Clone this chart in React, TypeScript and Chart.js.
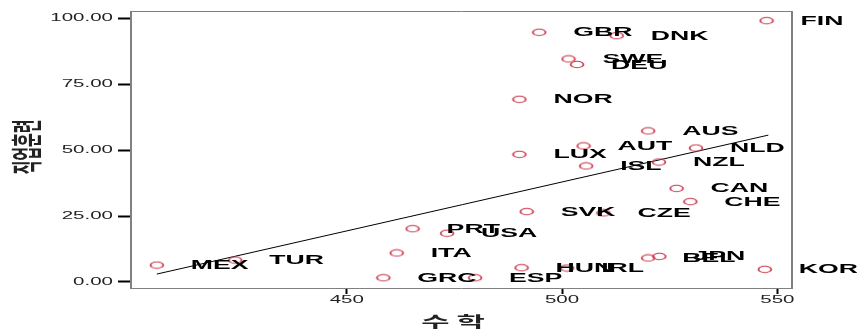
import React, { useEffect, useRef } from 'react';
import { Chart, registerables } from 'chart.js';

Chart.register(...registerables);

// ---- data ----
const countries = ['MEX', 'TUR', 'GRC', 'ITA', 'PRT', 'USA', 'ESP', 'HUN', 'NOR', 'LUX', 'SVK', 'GBR', 'IRL', 'SWE', 'DEU', 'AUT', 'ISL', 'CZE', 'DNK', 'BEL', 'AUS', 'NZL', 'JPN', 'CAN', 'CHE', 'NLD', 'KOR', 'FIN'];
const mathScores = [405.9, 424.1, 458.5, 461.6, 465.3, 473.3, 479.8, 490.6, 490.1, 490.1, 491.8, 494.7, 501.2, 501.5, 503.5, 505.0, 505.6, 509.6, 512.7, 520.0, 520.0, 522.5, 522.6, 526.6, 529.8, 531.1, 547.1, 547.5];
const vocational = [6.4, 8.3, 1.6, 11.0, 20.2, 18.5, 1.6, 5.4, 69.3, 48.4, 26.7, 94.7, 5.3, 84.6, 82.5, 51.6, 44.0, 26.2, 93.4, 9.1, 57.3, 45.5, 9.7, 35.5, 30.5, 50.8, 4.8, 99.1];
const fitX = [405.9, 547.9];
const fitY = [3.0, 55.7];
const xTicks = [450, 500, 550];
const yTicks = [0, 25, 50, 75, 100];
const xTitle = '수 학';
const yTitle = '직업훈련';

const S = 2.05; // horizontal stretch of the reference picture
const LATIN = "'Liberation Sans', Arial, sans-serif";
const KR = "'Noto Sans CJK KR', 'Noto Sans', sans-serif";

function stretchText(
  ctx: CanvasRenderingContext2D,
  text: string,
  x: number,
  y: number,
  font: string,
  align: CanvasTextAlign,
  color: string,
  rot = 0
) {
  ctx.save();
  ctx.translate(x, y);
  ctx.scale(S, 1);
  if (rot) ctx.rotate(rot);
  ctx.font = font;
  ctx.textAlign = align;
  ctx.textBaseline = 'middle';
  ctx.fillStyle = color;
  ctx.fillText(text, 0, 0);
  ctx.restore();
}

const overlay = {
  id: 'overlay',
  afterDraw(chart: any) {
    const ctx: CanvasRenderingContext2D = chart.ctx;
    const a = chart.chartArea;
    // frame
    ctx.save();
    ctx.strokeStyle = '#808080';
    ctx.lineWidth = 1;
    ctx.beginPath();
    ctx.moveTo(a.left, a.top + 0.5);
    ctx.lineTo(a.right, a.top + 0.5);
    ctx.moveTo(a.left, a.bottom + 0.5);
    ctx.lineTo(a.right, a.bottom + 0.5);
    ctx.stroke();
    ctx.lineWidth = 2;
    ctx.beginPath();
    ctx.moveTo(a.left, a.top);
    ctx.lineTo(a.left, a.bottom + 1);
    ctx.moveTo(a.right, a.top);
    ctx.lineTo(a.right, a.bottom + 1);
    ctx.stroke();
    ctx.restore();

    // country labels
    const meta = chart.getDatasetMeta(0);
    meta.data.forEach((el: any, i: number) => {
      stretchText(ctx, countries[i], el.x + 34, el.y + 0.5, `bold 13px ${LATIN}`, 'left', '#000');
    });

    // tick labels
    const xs = chart.scales.x;
    const ys = chart.scales.y;
    xTicks.forEach((v) => {
      stretchText(ctx, String(v), xs.getPixelForValue(v), a.bottom + 12.5, `10px ${LATIN}`, 'center', '#222');
    });
    yTicks.forEach((v) => {
      stretchText(ctx, v.toFixed(2), a.left - 18, ys.getPixelForValue(v), `10px ${LATIN}`, 'right', '#222');
    });

    // axis titles
    stretchText(ctx, xTitle, 453, 321, `bold 15px ${KR}`, 'center', '#222');
    stretchText(ctx, yTitle, 26, 147, `bold 15px ${KR}`, 'center', '#222', -Math.PI / 2);
  },
};

export default function App() {
  const ref = useRef<HTMLCanvasElement>(null);

  useEffect(() => {
    if (!ref.current) return;
    const marker = document.createElement('canvas');
    marker.width = 16;
    marker.height = 9;
    const m = marker.getContext('2d')!;
    m.save();
    m.translate(8, 4.5);
    m.scale(2, 1);
    m.beginPath();
    m.arc(0, 0, 3.2, 0, Math.PI * 2);
    m.strokeStyle = 'rgb(205,60,80)';
    m.lineWidth = 0.9;
    m.stroke();
    m.restore();

    const chart = new Chart(ref.current, {
      type: 'scatter',
      data: {
        datasets: [
          {
            label: 'countries',
            data: mathScores.map((x, i) => ({ x, y: vocational[i] })),
            pointStyle: marker as any,
            pointRadius: 5,
            order: 1,
          } as any,
          {
            type: 'line',
            label: 'fit',
            data: fitX.map((x, i) => ({ x, y: fitY[i] })),
            borderColor: '#000',
            borderWidth: 1,
            pointRadius: 0,
            showLine: true,
            fill: false,
            order: 2,
          } as any,
        ],
      },
      options: {
        animation: false,
        responsive: false,
        maintainAspectRatio: false,
        layout: { padding: { left: 0, right: 65, top: 11, bottom: 0 } },
        plugins: { legend: { display: false }, tooltip: { enabled: false } },
        scales: {
          x: {
            type: 'linear',
            min: 399.9,
            max: 553.4,
            afterBuildTicks: (s: any) => {
              s.ticks = xTicks.map((v) => ({ value: v }));
            },
            afterFit: (s: any) => {
              s.height = 46;
            },
            ticks: { display: false },
            border: { display: false },
            grid: { drawOnChartArea: false, drawTicks: true, tickLength: 6, tickWidth: 2, tickColor: '#000' },
          },
          y: {
            type: 'linear',
            min: -2.28,
            max: 102.77,
            afterBuildTicks: (s: any) => {
              s.ticks = yTicks.map((v) => ({ value: v }));
            },
            afterFit: (s: any) => {
              s.width = 131;
            },
            ticks: { display: false },
            border: { display: false },
            grid: { drawOnChartArea: false, drawTicks: true, tickLength: 13, tickWidth: 2, tickColor: '#000' },
          },
        },
      } as any,
      plugins: [overlay],
    });
    return () => chart.destroy();
  }, []);

  return (
    <div style={{ position: 'fixed', left: 0, top: 0, width: 857, height: 334, background: '#fff' }}>
      <canvas ref={ref} width={857} height={334} style={{ display: 'block' }} />
    </div>
  );
}
